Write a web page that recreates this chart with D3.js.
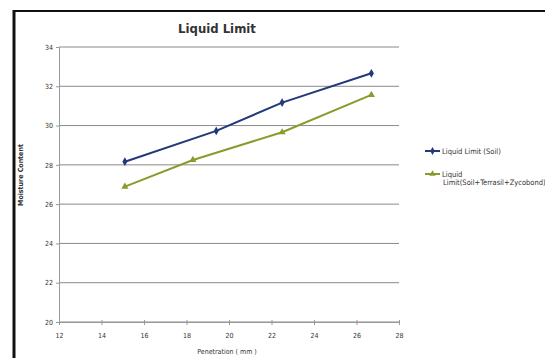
<!DOCTYPE html>
<html>
<head>
<meta charset="utf-8">
<script src="https://cdn.jsdelivr.net/npm/d3@7"></script>
<style>
  body { margin: 0; background: #fff; }
  text { font-family: "Liberation Sans Narrow", "DejaVu Sans Condensed", sans-serif; fill: #333; }
</style>
</head>
<body>
<svg id="chart" width="545" height="358"></svg>
<script>
// Series values
var penetrationSoil = [15.1, 19.4, 22.5, 26.7];
var moistureSoil = [28.16, 29.73, 31.17, 32.66];
var penetrationMix = [15.1, 18.3, 22.5, 26.7];
var moistureMix = [26.89, 28.25, 29.66, 31.56];
var seriesNames = ["Liquid Limit (Soil)", "Liquid Limit(Soil+Terrasil+Zycobond)"];
var xTicks = [12, 14, 16, 18, 20, 22, 24, 26, 28];
var yTicks = [20, 22, 24, 26, 28, 30, 32, 34];

var margin = { top: 47, left: 59, right: 146, bottom: 36 },
  width = 545 - margin.left - margin.right,
  height = 358 - margin.top - margin.bottom;

var svg = d3.select("#chart");

// outer frame (only top and left edges fall inside the window)
svg.append("line").attr("x1", 14).attr("x2", 545).attr("y1", 11).attr("y2", 11)
  .attr("stroke", "#111").attr("stroke-width", 2);
svg.append("line").attr("x1", 14).attr("x2", 14).attr("y1", 10).attr("y2", 358)
  .attr("stroke", "#111").attr("stroke-width", 3);

var chart = svg.append("g")
  .attr("transform", `translate(${margin.left}, ${margin.top})`);

var xScale = d3.scaleLinear().domain([12, 28]).range([0, width]);
var yScale = d3.scaleLinear().domain([20, 34]).range([height, 0]);

// gridlines
chart.append("g")
  .selectAll("line")
  .data(yTicks)
  .enter()
  .append("line")
  .attr("x1", 0)
  .attr("x2", width)
  .attr("y1", d => yScale(d))
  .attr("y2", d => yScale(d))
  .attr("stroke", "#8a8a8a")
  .attr("stroke-width", 1);

// axes
var yAxis = chart.append("g")
  .call(d3.axisLeft(yScale).tickValues(yTicks).tickSize(3).tickPadding(3));
var xAxis = chart.append("g")
  .attr("transform", "translate(0," + height + ")")
  .call(d3.axisBottom(xScale).tickValues(xTicks).tickSize(3).tickPadding(8));
[xAxis, yAxis].forEach(function(a) {
  a.select(".domain").attr("stroke", "#999");
  a.selectAll(".tick line").attr("stroke", "#999");
  a.selectAll("text").style("font-size", "7px").attr("fill", "#444");
});
xAxis.selectAll(".tick line").attr("y1", -2);

// lines
var soil = penetrationSoil.map((p, i) => [p, moistureSoil[i]]);
var mix = penetrationMix.map((p, i) => [p, moistureMix[i]]);
var line = d3.line().x(d => xScale(d[0])).y(d => yScale(d[1]));
var blue = "#22397a", green = "#8c9a2c";

chart.append("path").datum(soil).attr("d", line)
  .attr("fill", "none").attr("stroke", blue).attr("stroke-width", 2);
chart.append("path").datum(mix).attr("d", line)
  .attr("fill", "none").attr("stroke", green).attr("stroke-width", 2);

chart.selectAll(".dia").data(soil).enter().append("path")
  .attr("d", d3.symbol().type(d3.symbolDiamond).size(22))
  .attr("transform", d => `translate(${xScale(d[0])},${yScale(d[1])})`)
  .attr("fill", blue);
chart.selectAll(".tri").data(mix).enter().append("path")
  .attr("d", d3.symbol().type(d3.symbolTriangle).size(22))
  .attr("transform", d => `translate(${xScale(d[0])},${yScale(d[1])})`)
  .attr("fill", green);

// titles
svg.append("text").attr("x", 217).attr("y", 33)
  .style("text-anchor", "middle").style("font-size", "13px").style("font-weight", "bold")
  .text("Liquid Limit");
svg.append("text").attr("transform", "translate(23,175) rotate(-90)")
  .style("text-anchor", "middle").style("font-size", "7px").style("font-weight", "bold")
  .text("Moisture Content");
svg.append("text").attr("x", 227).attr("y", 354)
  .style("text-anchor", "middle").style("font-size", "7px")
  .text("Penetration ( mm )");

// legend
var lg = svg.append("g");
lg.append("line").attr("x1", 425).attr("x2", 440).attr("y1", 151).attr("y2", 151)
  .attr("stroke", blue).attr("stroke-width", 2);
lg.append("path").attr("d", d3.symbol().type(d3.symbolDiamond).size(18))
  .attr("transform", "translate(432.5,151)").attr("fill", blue);
lg.append("text").attr("x", 442).attr("y", 153.5).style("font-size", "7.5px").text(seriesNames[0]);
lg.append("line").attr("x1", 425).attr("x2", 440).attr("y1", 174).attr("y2", 174)
  .attr("stroke", green).attr("stroke-width", 2);
lg.append("path").attr("d", d3.symbol().type(d3.symbolTriangle).size(18))
  .attr("transform", "translate(432.5,174)").attr("fill", green);
lg.append("text").attr("x", 442).attr("y", 176.5).style("font-size", "7.5px").text("Liquid");
lg.append("text").attr("x", 443).attr("y", 185).style("font-size", "7.5px").text("Limit(Soil+Terrasil+Zycobond)");
</script>
</body>
</html>
